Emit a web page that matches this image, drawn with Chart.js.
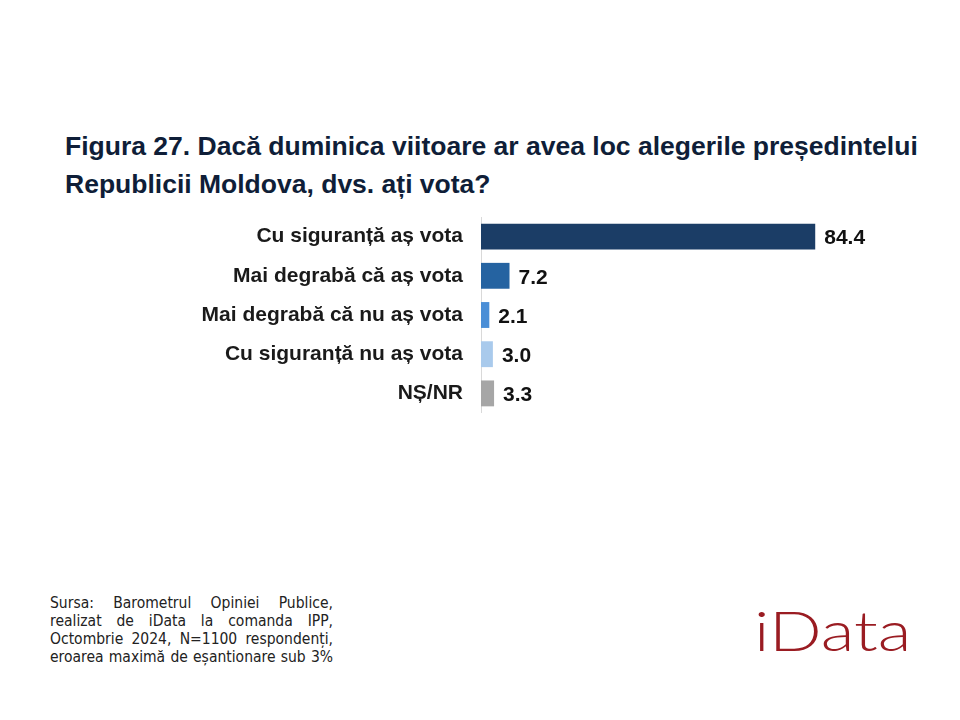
<!DOCTYPE html>
<html>
<head>
<meta charset="utf-8">
<script src="https://cdn.jsdelivr.net/npm/chart.js@4"></script>
<style>
  body { margin:0; background:#fff; width:960px; height:720px; position:relative; overflow:hidden; font-family:"Liberation Sans", Arial, sans-serif; }
  .title { position:absolute; left:65px; top:127px; width:890px; font-size:26.5px; font-weight:bold; line-height:38px; color:#0f1e38; white-space:nowrap; }
  #myChart { position:absolute; left:0; top:217px; }
  .src { position:absolute; left:50px; top:594px; width:283px; font-family:"Liberation Sans Narrow", "Arial Narrow", "DejaVu Sans Condensed", sans-serif; font-size:15.5px; line-height:18px; color:#222; }
  .src div { text-align:justify; text-align-last:justify; white-space:nowrap; }
  .logo { position:absolute; left:754px; top:596px; font-family:Lato, sans-serif; font-weight:300; font-size:56px; color:#9a1c22; transform:scaleX(1.24); transform-origin:left top; }
</style>
</head>
<body>
<div class="title">Figura 27. Dacă duminica viitoare ar avea loc alegerile președintelui<br>Republicii Moldova, dvs. ați vota?</div>
<canvas id="myChart" width="960" height="196"></canvas>
<div class="src">
  <div>Sursa: Barometrul Opiniei Publice,</div>
  <div>realizat de iData la comanda IPP,</div>
  <div>Octombrie 2024, N=1100 respondenți,</div>
  <div>eroarea maximă de eșantionare sub 3%</div>
</div>
<div class="logo">iData</div>
<script>
let labels = ["Cu siguranță aș vota", "Mai degrabă că aș vota", "Mai degrabă că nu aș vota", "Cu siguranță nu aș vota", "NȘ/NR"];
let values = [84.4, 7.2, 2.1, 3.0, 3.3];
let barColors = ["#1b3d66", "#2563a1", "#4a8ed6", "#a9caec", "#a6a6a6"];

// value labels at the end of each bar
let valueLabels = {
  id: "valueLabels",
  afterDatasetsDraw(chart) {
    let ctx = chart.ctx;
    let meta = chart.getDatasetMeta(0);
    ctx.save();
    ctx.font = "bold 21px 'Liberation Sans', Arial, sans-serif";
    ctx.fillStyle = "#111";
    ctx.textBaseline = "middle";
    ctx.textAlign = "left";
    meta.data.forEach((bar, i) => {
      ctx.fillText(values[i].toFixed(1), bar.x + 9, bar.y + 2);
    });
    ctx.restore();
  }
};

new Chart("myChart", {
  type: "bar",
  data: {
    labels: labels,
    datasets: [{
      data: values,
      backgroundColor: barColors,
      barPercentage: 0.66,
      categoryPercentage: 1
    }]
  },
  options: {
    indexAxis: "y",
    responsive: false,
    animation: false,
    layout: { padding: { left: 0, right: 83, top: 0, bottom: 0 } },
    plugins: { legend: { display: false }, tooltip: { enabled: false } },
    scales: {
      x: { display: false, min: 0, max: 100 },
      y: {
        afterFit(scale) {
          scale.width = 481;
          scale.paddingTop = 0;
          scale.paddingBottom = 0;
        },
        grid: { display: false, drawTicks: false },
        border: { display: true, color: "#d9d9d9", width: 1 },
        ticks: {
          padding: 18,
          color: "#1a1a1a",
          font: { family: "'Liberation Sans', Arial, sans-serif", size: 21, weight: "bold" }
        }
      }
    }
  },
  plugins: [valueLabels]
});
</script>
</body>
</html>
